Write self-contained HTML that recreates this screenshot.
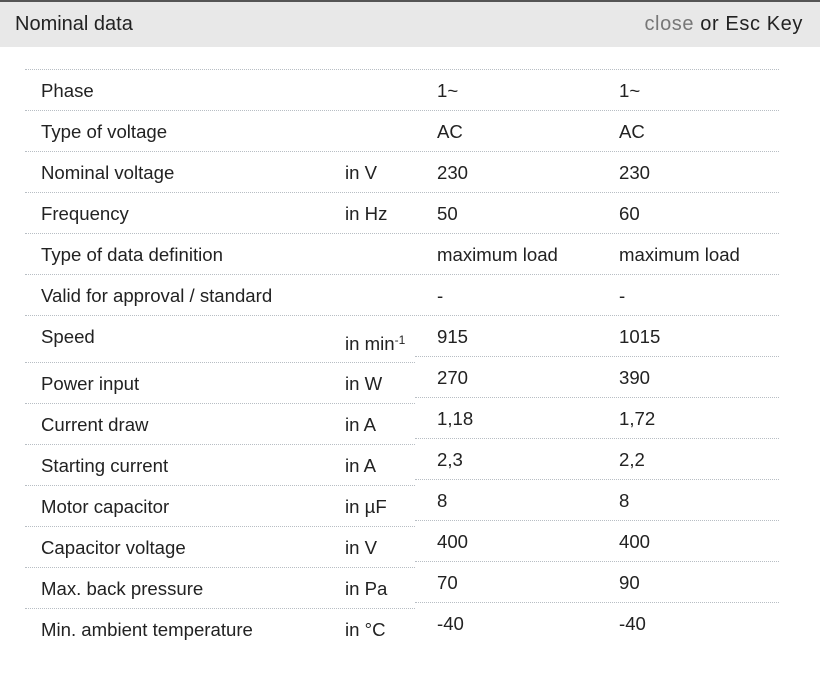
<!DOCTYPE html>
<html><head><style>
body{margin:0;width:820px;height:678px;background:#fff;position:relative;font-family:"Liberation Sans",sans-serif;font-size:18.6px;color:#222;overflow:hidden}
.hd{position:absolute;left:0;top:0;width:820px;height:47px;background:#e8e8e8;border-top:2px solid #555;box-sizing:border-box}
.t{position:absolute;line-height:20px;white-space:nowrap;margin-top:1px}
.l{position:absolute;height:0;border-top:1px dotted #b8bec4}
sup{font-size:12px;vertical-align:top;position:relative;top:-4px}
</style></head><body>
<div class="hd"></div>
<div class="t" style="left:15px;top:13px;font-size:20px">Nominal data</div>
<div class="t" style="right:17px;top:13px;font-size:20px;letter-spacing:0.6px"><span style="color:#777">close</span> or Esc Key</div>

<div class="l" style="left:25px;width:754px;top:69px"></div>
<div class="l" style="left:25px;width:754px;top:110px"></div>
<div class="l" style="left:25px;width:754px;top:151px"></div>
<div class="l" style="left:25px;width:754px;top:192px"></div>
<div class="l" style="left:25px;width:754px;top:233px"></div>
<div class="l" style="left:25px;width:754px;top:274px"></div>
<div class="l" style="left:25px;width:754px;top:315px"></div>

<div class="l" style="left:25px;width:390px;top:362px"></div><div class="l" style="left:415px;width:364px;top:356px"></div>
<div class="l" style="left:25px;width:390px;top:403px"></div><div class="l" style="left:415px;width:364px;top:397px"></div>
<div class="l" style="left:25px;width:390px;top:444px"></div><div class="l" style="left:415px;width:364px;top:438px"></div>
<div class="l" style="left:25px;width:390px;top:485px"></div><div class="l" style="left:415px;width:364px;top:479px"></div>
<div class="l" style="left:25px;width:390px;top:526px"></div><div class="l" style="left:415px;width:364px;top:520px"></div>
<div class="l" style="left:25px;width:390px;top:567px"></div><div class="l" style="left:415px;width:364px;top:561px"></div>
<div class="l" style="left:25px;width:390px;top:608px"></div><div class="l" style="left:415px;width:364px;top:602px"></div>

<div class="t" style="left:41px;top:80px">Phase</div><div class="t" style="left:437px;top:80px">1~</div><div class="t" style="left:619px;top:80px">1~</div>
<div class="t" style="left:41px;top:121px">Type of voltage</div><div class="t" style="left:437px;top:121px">AC</div><div class="t" style="left:619px;top:121px">AC</div>
<div class="t" style="left:41px;top:162px">Nominal voltage</div><div class="t" style="left:345px;top:162px">in V</div><div class="t" style="left:437px;top:162px">230</div><div class="t" style="left:619px;top:162px">230</div>
<div class="t" style="left:41px;top:203px">Frequency</div><div class="t" style="left:345px;top:203px">in Hz</div><div class="t" style="left:437px;top:203px">50</div><div class="t" style="left:619px;top:203px">60</div>
<div class="t" style="left:41px;top:244px">Type of data definition</div><div class="t" style="left:437px;top:244px">maximum load</div><div class="t" style="left:619px;top:244px">maximum load</div>
<div class="t" style="left:41px;top:285px">Valid for approval / standard</div><div class="t" style="left:437px;top:285px">-</div><div class="t" style="left:619px;top:285px">-</div>
<div class="t" style="left:41px;top:326px">Speed</div><div class="t" style="left:345px;top:333px">in min<sup>-1</sup></div><div class="t" style="left:437px;top:326px">915</div><div class="t" style="left:619px;top:326px">1015</div>
<div class="t" style="left:41px;top:373px">Power input</div><div class="t" style="left:345px;top:373px">in W</div><div class="t" style="left:437px;top:367px">270</div><div class="t" style="left:619px;top:367px">390</div>
<div class="t" style="left:41px;top:414px">Current draw</div><div class="t" style="left:345px;top:414px">in A</div><div class="t" style="left:437px;top:408px">1,18</div><div class="t" style="left:619px;top:408px">1,72</div>
<div class="t" style="left:41px;top:455px">Starting current</div><div class="t" style="left:345px;top:455px">in A</div><div class="t" style="left:437px;top:449px">2,3</div><div class="t" style="left:619px;top:449px">2,2</div>
<div class="t" style="left:41px;top:496px">Motor capacitor</div><div class="t" style="left:345px;top:496px">in µF</div><div class="t" style="left:437px;top:490px">8</div><div class="t" style="left:619px;top:490px">8</div>
<div class="t" style="left:41px;top:537px">Capacitor voltage</div><div class="t" style="left:345px;top:537px">in V</div><div class="t" style="left:437px;top:531px">400</div><div class="t" style="left:619px;top:531px">400</div>
<div class="t" style="left:41px;top:578px">Max. back pressure</div><div class="t" style="left:345px;top:578px">in Pa</div><div class="t" style="left:437px;top:572px">70</div><div class="t" style="left:619px;top:572px">90</div>
<div class="t" style="left:41px;top:619px">Min. ambient temperature</div><div class="t" style="left:345px;top:619px">in °C</div><div class="t" style="left:437px;top:613px">-40</div><div class="t" style="left:619px;top:613px">-40</div>
</body></html>
